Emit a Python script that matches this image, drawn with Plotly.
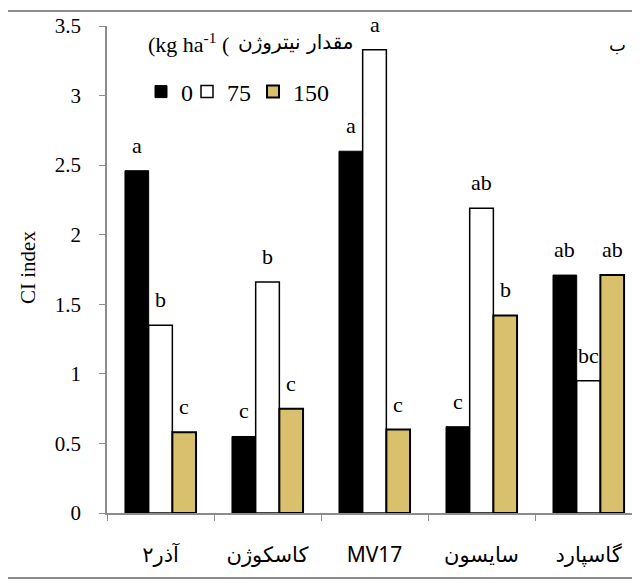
import plotly.graph_objects as go

categories = ["آذر۲", "کاسکوژن", "MV17", "سایسون", "گاسپارد"]
series_names = ["0", "75", "150"]
ci_0 = [2.46, 0.55, 2.60, 0.62, 1.71]
ci_75 = [1.35, 1.66, 3.33, 2.19, 0.95]
ci_150 = [0.58, 0.75, 0.60, 1.42, 1.71]
letters_0 = ["a", "c", "a", "c", "ab"]
letters_75 = ["b", "b", "a", "ab", "bc"]
letters_150 = ["c", "c", "c", "b", "ab"]
y_ticks = [0, 0.5, 1, 1.5, 2, 2.5, 3, 3.5]

# page has an 8px body margin: figure drawn at (8, 8)
OFF = 8
W, H = 640 - OFF, 584 - OFF
L, R, T, B = 107 - OFF, 0, 26 - OFF, 584 - 513
pw, ph = W - L - R, H - T - B


def px_x(px):
    return (px - OFF - L) / pw


def px_y(py):
    return (H - B - (py - OFF)) / ph


SERIF = "Liberation Serif"
SANS = "Noto Sans, DejaVu Sans"

series = [ci_0, ci_75, ci_150]
letters = [letters_0, letters_75, letters_150]
fills = ["#000000", "#FFFFFF", "#D8C06C"]
lines = [("#000000", 1), ("#000000", 1.5), ("#000000", 2)]
legend_ids = ["legend", "legend2", "legend3"]
legend_x = [141, 187, 253]

fig = go.Figure()
for name, vals, fc, (lc, lw), lid in zip(series_names, series, fills, lines, legend_ids):
    fig.add_trace(go.Bar(
        x=categories, y=vals, name=name, legend=lid,
        marker=dict(color=fc, line=dict(color=lc, width=lw)),
    ))

bargap = 0.336
x_range = [-0.5, 4.481]
cat_px = pw / (x_range[1] - x_range[0])
bar_px = cat_px * (1 - bargap) / 3

annotations = []
for i, (vals, labs) in enumerate(zip(series, letters)):
    for cat, v, lab in zip(categories, vals, labs):
        annotations.append(dict(
            x=cat, y=v, xref="x", yref="y", text=lab, showarrow=False,
            xshift=(i - 1) * bar_px, yshift=11, xanchor="center", yanchor="bottom",
            font=dict(family=SERIF, size=22, color="black"),
        ))

annotations.append(dict(
    x=px_x(28), y=px_y(268), xref="paper", yref="paper", text="CI index",
    textangle=-90, showarrow=False, xanchor="center", yanchor="middle",
    font=dict(family=SERIF, size=21, color="black"),
))
annotations.append(dict(
    x=px_x(231), y=px_y(43), xref="paper", yref="paper",
    text="(kg ha<sup>-1</sup> (",
    showarrow=False, xanchor="right", yanchor="middle",
    font=dict(family=SERIF, size=22, color="black"),
))
annotations.append(dict(
    x=px_x(236), y=px_y(42), xref="paper", yref="paper",
    text="مقدار نیتروژن",
    showarrow=False, xanchor="left", yanchor="middle",
    font=dict(family="DejaVu Sans", size=20, color="black"),
))
annotations.append(dict(
    x=px_x(617), y=px_y(45), xref="paper", yref="paper", text="ب",
    showarrow=False, xanchor="center", yanchor="middle",
    font=dict(family="DejaVu Sans", size=18, color="black"),
))

legend_common = dict(
    orientation="h", xanchor="left", yanchor="middle",
    font=dict(family=SERIF, size=24, color="black"),
    itemwidth=30, bgcolor="rgba(0,0,0,0)",
)
legends = {}
for lid, lx in zip(legend_ids, legend_x):
    legends[lid] = dict(legend_common, x=px_x(lx), y=px_y(92))

fig.update_layout(
    width=W, height=H,
    margin=dict(l=L, r=R, t=T, b=B, pad=0),
    paper_bgcolor="white", plot_bgcolor="white",
    barmode="group", bargap=bargap, bargroupgap=0,
    showlegend=True,
    **legends,
    xaxis=dict(
        type="category", range=x_range,
        showline=True, linecolor="#8c8c8c", linewidth=1.5,
        ticks="outside", tickson="boundaries", ticklen=6, tickcolor="#8c8c8c",
        tickfont=dict(family=SANS, size=21, color="black"),
        ticklabelstandoff=22, showgrid=False, zeroline=False,
    ),
    yaxis=dict(
        range=[0, 3.5], tickvals=y_ticks,
        ticktext=[("%g" % t) for t in y_ticks],
        showline=True, linecolor="#8c8c8c", linewidth=1.5,
        ticks="outside", ticklen=6, tickcolor="#8c8c8c",
        tickfont=dict(family=SERIF, size=21, color="black"),
        ticklabelstandoff=14, showgrid=False, zeroline=False,
    ),
    annotations=annotations,
    shapes=[dict(
        type="rect", xref="paper", yref="paper",
        x0=px_x(7), x1=px_x(660), y0=px_y(578), y1=px_y(11),
        line=dict(color="#8c8c8c", width=2), layer="above",
    )],
)

fig.write_html("out.html")
